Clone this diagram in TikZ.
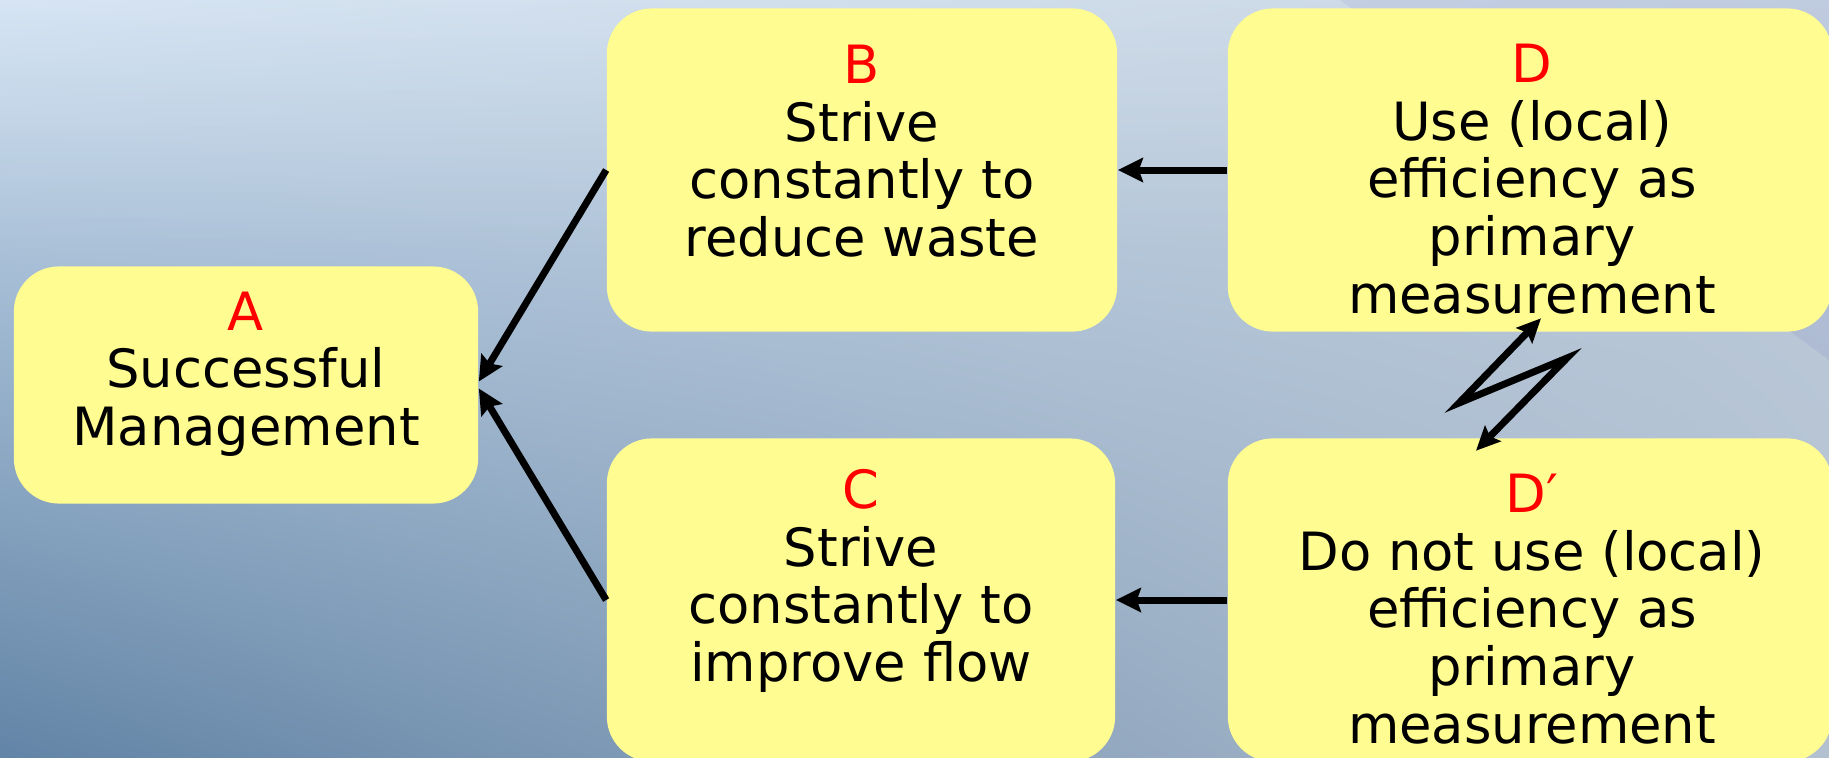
\documentclass[tikz,border=0pt]{standalone}
\usepackage{fontspec}
\setmainfont{DejaVu Sans}
\usepackage{xcolor}
\usepackage{tikz}
\usetikzlibrary{arrows.meta,calc,positioning,shadings,fadings}

\definecolor{jaune}{RGB}{255,252,145}
\definecolor{fondHG}{RGB}{204,222,240}
\definecolor{fondHD}{RGB}{190,204,220}
\definecolor{fondBG}{RGB}{98,132,166}
\definecolor{fondBD}{RGB}{178,192,208}
\newcommand{\lettre}[1]{\textcolor{red}{#1}}

\begin{document}
\begin{tikzpicture}[
		x=0.01cm, y=-0.01cm,
		boite/.style={rounded corners=0.45cm, fill=jaune, inner sep=0pt},
		texte/.style={align=center, inner sep=0pt, font=\fontsize{15}{16.4}\selectfont},
		fleche/.style={-{Stealth[length=0.25cm, width=0.24cm, inset=0.04cm]}, line width=0.07cm},
		eclair/.style={{Stealth[length=0.24cm, width=0.22cm, inset=0.04cm]}-{Stealth[length=0.24cm, width=0.22cm, inset=0.04cm]}, line width=0.07cm, line join=miter, miter limit=20}
		]
	
		% --- Fond ---
		\useasboundingbox (0,0) rectangle (1829,757);
		\clip (0,0) rectangle (1829,757);
		\shade[upper left=fondHG, upper right=fondHD, lower left=fondBG, lower right=fondBD] (0,0) rectangle (1829,757);
		\fill[white, opacity=0.2, path fading=south] (0,0) rectangle (1829,260);
		\fill[black!40!blue, opacity=0.05] (1340,0) -- (1829,0) -- (1829,360) -- cycle;
	
		% --- Boites ---
		\node[boite, minimum width=4.64cm, minimum height=2.37cm] (A) at (246,385) {};
		\node[boite, minimum width=5.10cm, minimum height=3.23cm] (B) at (862,170) {};
		\node[boite, minimum width=5.08cm, minimum height=3.23cm] (C) at (861,600) {};
		\node[boite, minimum width=6.04cm, minimum height=3.23cm] (D) at (1530,170) {};
		\node[boite, minimum width=6.04cm, minimum height=3.23cm] (Dp) at (1530,600) {};
	
		% Textes
		\node[texte] (tA) at (246,374) {\lettre{A}\\Successful\\Management};
		\node[texte] (tB) at (862,151) {\lettre{B}\\Strive\\constantly to\\reduce waste};
		\node[texte] (tC) at (861,581) {\lettre{C}\\Strive\\constantly to\\improve flow};
		\node[texte] (tD) at (1532,179) {\lettre{D}\\Use (local)\\efficiency as\\primary\\measurement};
		\node[texte] (tDp) at (1532,609) {\lettre{D′}\\Do not use (local)\\efficiency as\\primary\\measurement};
	
		% --- Fleches ---
		\draw[fleche] (B.west) -- ([yshift=1pt]A.east);
		\draw[fleche] (C.west) -- ([yshift=-1pt]A.east);
		\draw[fleche] (D.west) -- (B.east);
		\draw[fleche] (Dp.west) -- (C.east);
	
		% Eclair entre D et D'
		\coordinate (e1) at (1459,403);
		\coordinate (e2) at (1567,358);
		\draw[eclair] ([shift={(11,-14)}]D.south) -- (e1) -- (e2) -- ([shift={(-54,13)}]Dp.north);
	
	\end{tikzpicture}
\end{document}
